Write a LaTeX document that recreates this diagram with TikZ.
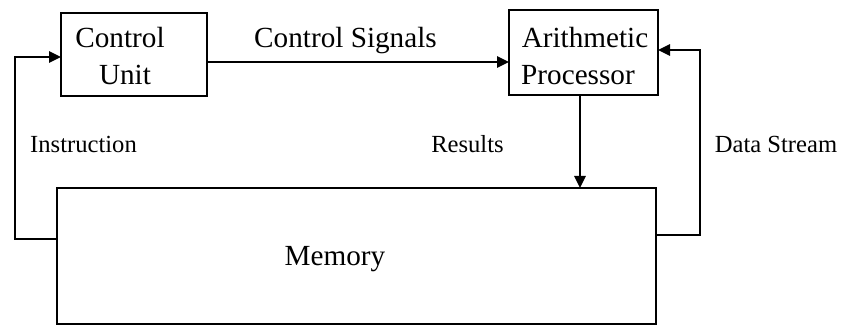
\documentclass[tikz,border=0pt]{standalone}
\usepackage{fontspec}
\setmainfont{Liberation Serif}
\usetikzlibrary{arrows.meta}

\tikzset{
  block/.style={draw=black, line width=2.2pt, inner sep=0pt, outer sep=0pt},
  boxtext/.style={inner sep=0pt, anchor=base, font=\fontsize{29.2}{34}\selectfont},
  tag/.style={inner sep=0pt, anchor=base, font=\fontsize{24.6}{29}\selectfont},
  flow/.style={draw=black, line width=2.7pt,
    -{Triangle[length=12pt,width=11pt]}}
}

\begin{document}
\begin{tikzpicture}[x=1pt, y=-1pt]
  \useasboundingbox (0,0) rectangle (841,326);

  % the three blocks
  \node[block, minimum width=146pt, minimum height=83pt] (cu) at (134,54.5) {};
  \node[block, minimum width=149pt, minimum height=85pt] (ap) at (583.5,52.5) {};
  \node[block, minimum width=599pt, minimum height=136pt] (mem) at (356.5,256) {};

  % block captions
  \node[boxtext] (cuA) at (120,48) {Control};
  \node[boxtext] (cuB) at (125,85) {Unit};
  \node[boxtext] (apA) at (585,48) {Arithmetic};
  \node[boxtext] (apB) at (578,85) {Processor};
  \node[boxtext] (memT) at (335,265) {Memory};

  % signal paths
  \draw[flow] ([yshift=-7.5pt]cu.east) -- ([yshift=-9.5pt]ap.west);
  \draw[flow] ([xshift=-3.5pt]ap.south) -- ([xshift=-3.5pt]ap.south |- mem.north);
  \draw[flow] ([yshift=17pt]mem.west) -- ++(-42,0) |- ([yshift=-2.5pt]cu.west);
  \draw[flow] ([yshift=21pt]mem.east) -- ++(44,0) |- ([yshift=2.5pt]ap.east);

  % path labels
  \node[boxtext] (sig) at (345.5,48) {Control Signals};
  \node[tag] (ins) at (83.5,153) {Instruction};
  \node[tag] (res) at (467.5,153) {Results};
  \node[tag] (dat) at (776,153) {Data Stream};
\end{tikzpicture}
\end{document}
